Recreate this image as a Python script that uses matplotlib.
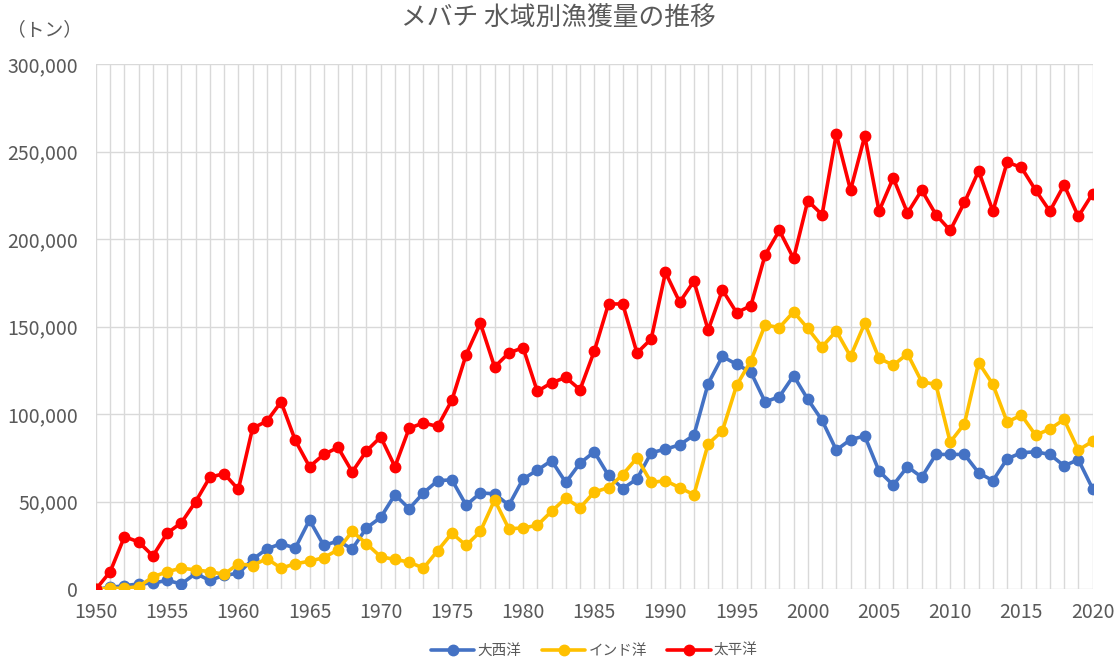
import numpy as np
import matplotlib.pyplot as plt
from matplotlib.ticker import FuncFormatter, MultipleLocator

plt.rcParams['font.family'] = ['Noto Sans CJK JP', 'DejaVu Sans']

years = np.arange(1950, 2021)

atlantic = [0, 1000, 2000, 3000, 3500, 5000, 3000, 9000, 5000, 8000,
            9000, 17000, 23000, 26000, 23500, 39500, 25000, 27500, 23000, 35000,
            41000, 54000, 46000, 55000, 62000, 62500, 48000, 55000, 54500, 48000,
            63000, 68000, 73500, 61000, 72000, 78500, 65000, 57500, 63000, 78000,
            80000, 82500, 88000, 117500, 133000, 128500, 124000, 107000, 110000, 122000,
            108500, 96500, 79500, 85500, 87500, 67500, 59500, 70000, 64000, 77000,
            77000, 77000, 66500, 62000, 74500, 78000, 78500, 77000, 70500, 74000,
            57500]

indian = [0, 500, 500, 1500, 7000, 10000, 12000, 11000, 10000, 8500,
          14500, 13500, 17500, 12000, 14500, 16000, 18000, 22500, 33000, 26000,
          18500, 17000, 15500, 12000, 22000, 32000, 25000, 33000, 51000, 34500,
          35000, 36500, 44500, 52000, 46500, 55500, 58000, 65500, 75000, 61000,
          62000, 58000, 54000, 83000, 90500, 116500, 130500, 151000, 149500, 158500,
          149000, 138500, 147500, 133000, 152000, 132000, 128000, 134500, 118500, 117000,
          84000, 94500, 129500, 117000, 95500, 99500, 88000, 91500, 97000, 79500,
          84500]

pacific = [0, 10000, 30000, 27000, 19000, 32000, 38000, 50000, 64000, 66000,
           57000, 92000, 96000, 107000, 85000, 70000, 77000, 81000, 67000, 79000,
           87000, 70000, 92000, 95000, 93000, 108000, 134000, 152000, 127000, 135000,
           138000, 113000, 118000, 121000, 114000, 136000, 163000, 163000, 135000, 143000,
           181000, 164000, 176000, 148000, 171000, 158000, 162000, 191000, 205000, 189000,
           222000, 214000, 260000, 228000, 259000, 216000, 235000, 215000, 228000, 214000,
           205000, 221000, 239000, 216000, 244000, 241000, 228000, 216000, 231000, 213000,
           226000]

series_names = ['大西洋', 'インド洋', '太平洋']
series_colors = ['#4472C4', '#FFC000', '#FF0000']

fig = plt.figure(figsize=(11.16, 6.62), dpi=100)
ax = fig.add_axes([0.086, 0.110, 0.893, 0.793])

for vals, name, col in zip([atlantic, indian, pacific], series_names, series_colors):
    ax.plot(years, vals, color=col, lw=2.6, marker='o', ms=7.5, label=name,
            solid_capstyle='round')

ax.set_xlim(1950, 2020)
ax.set_ylim(0, 300000)
ax.xaxis.set_major_locator(MultipleLocator(5))
ax.xaxis.set_minor_locator(MultipleLocator(1))
ax.yaxis.set_major_locator(MultipleLocator(50000))
ax.yaxis.set_major_formatter(FuncFormatter(lambda v, p: f'{int(v):,}'))

ax.grid(True, which='both', axis='x', color='#d9d9d9', lw=1)
ax.grid(True, which='major', axis='y', color='#d9d9d9', lw=1)
ax.set_axisbelow(True)
for s in ax.spines.values():
    s.set_visible(False)
ax.tick_params(which='both', length=0, labelsize=14, colors='#595959')
ax.tick_params(axis='y', pad=13)
ax.tick_params(axis='x', pad=9)

fig.text(0.5, 0.973, 'メバチ 水域別漁獲量の推移', ha='center', va='center',
         fontsize=18.5, color='#595959')
fig.text(0.006, 0.955, '（トン）', ha='left', va='center', fontsize=13.5, color='#595959')

ax.legend(loc='center', bbox_to_anchor=(0.5, -0.117), ncol=3, frameon=False,
          fontsize=10.5, labelcolor='#595959', handlelength=3, columnspacing=1.4,
          handletextpad=0.2, borderpad=0.1)

fig.savefig('out.png', dpi=100)
